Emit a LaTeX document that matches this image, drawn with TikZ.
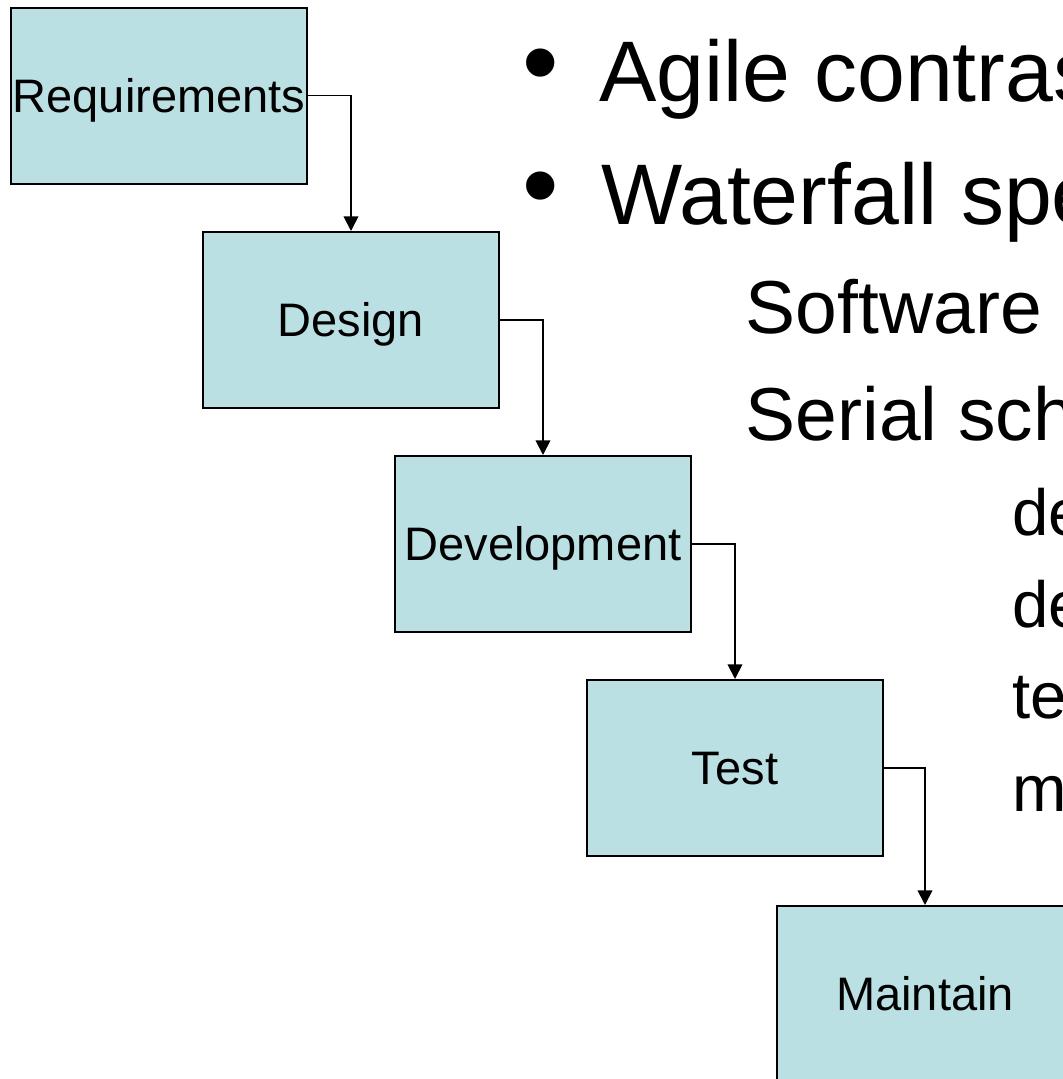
\documentclass[tikz,border=0pt]{standalone}
\usepackage{fontspec}
\setmainfont{Liberation Sans}
\usetikzlibrary{arrows.meta}
\definecolor{boxfill}{RGB}{187,224,227}
\begin{document}
\begin{tikzpicture}[x=0.75pt,y=-0.75pt,
  stagebox/.style={draw=black, fill=boxfill, line width=1.5pt,
    minimum width=222pt, minimum height=132pt, inner sep=0pt,
    font=\fontsize{35.25}{42}\selectfont, text height=25.2pt, text depth=0pt},
  conn/.style={draw=black, line width=1.3pt, -{Triangle[length=11pt,width=11pt]}},
  lvlone/.style={anchor=base west, inner sep=0pt, font=\fontsize{64.5}{77}\selectfont},
  bulletmark/.style={anchor=center, inner sep=0pt, font=\fontsize{78}{90}\selectfont},
  lvltwo/.style={anchor=base west, inner sep=0pt, font=\fontsize{56.25}{67}\selectfont},
  lvlthree/.style={anchor=base west, inner sep=0pt, font=\fontsize{49}{59}\selectfont}]
\clip (0,0) rectangle (1063,1079);
\fill[white] (0,0) rectangle (1063,1079);

% stage boxes
\node[stagebox] (req) at (159,95.5) {Requirements};
\node[stagebox] (des) at (351,320) {Design};
\node[stagebox] (dev) at (543,544) {Development};
\node[stagebox] (tst) at (735,768) {Test};
\node[stagebox] (mnt) at (925,994) {Maintain};

% connectors
\draw[conn] (req.east) -| (des.north);
\draw[conn] (des.east) -| (dev.north);
\draw[conn] (dev.east) -| (tst.north);
\draw[conn] (tst.east) -| (mnt.north);

% bullet text
\node[bulletmark] (b1) at (541,73.3) {•};
\node[lvlone] (t1) at (599,101.7) {Agile contras};
\node[bulletmark] (b2) at (541,196.7) {•};
\node[lvlone] (t2) at (601,224) {Waterfall spe};
\node[lvltwo] (t3) at (745.5,333) {Software t};
\node[lvltwo] (t4) at (745.5,440) {Serial sch};
\node[lvlthree] (t5) at (1012,535) {de};
\node[lvlthree] (t6) at (1012,627) {de};
\node[lvlthree] (t7) at (1012,718) {te};
\node[lvlthree] (t8) at (1012,811) {m};
\end{tikzpicture}
\end{document}
